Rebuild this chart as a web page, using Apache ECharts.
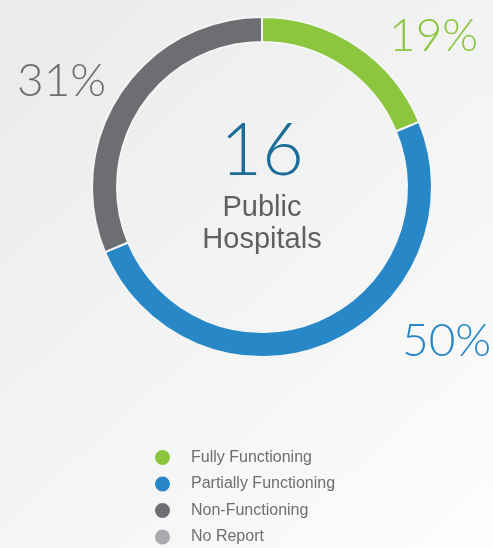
<!DOCTYPE html>
<html>
<head>
<meta charset="utf-8">
<script src="https://cdn.jsdelivr.net/npm/echarts@6/dist/echarts.min.js"></script>
<style>
  html, body { margin: 0; padding: 0; }
  #chart { width: 493px; height: 548px; }
</style>
</head>
<body>
<div id="chart"></div>
<script>
// hospital status counts (16 in all)
var categories = ["Fully Functioning", "Partially Functioning", "Non-Functioning", "No Report"];
var counts = [3, 8, 5, 0];
var colors = ["#8cc63f", "#2787c7", "#6d6e71", "#a7a9ac"];
var total = counts.reduce(function (a, b) { return a + b }, 0);

function pct(i) { return Math.round(counts[i] / total * 100) + "%" }

var chart = echarts.init(document.getElementById("chart"));
var font = "Lato, 'Open Sans', sans-serif";

chart.setOption({
  backgroundColor: new echarts.graphic.LinearGradient(0, 0, 1, 1, [
    {offset: 0, color: "#e9eaeb"}, {offset: 1, color: "#fdfdfd"}
  ]),
  color: colors,
  legend: {
    orient: "vertical", left: 148, top: 443, height: 110,
    icon: "circle", itemWidth: 17, itemHeight: 17, itemGap: 7.5,
    data: categories,
    textStyle: {color: "#6d6e71", fontSize: 16, fontFamily: "'Liberation Sans', Arial, sans-serif", padding: [0, 0, 0, 15]}
  },
  series: [{
    type: "pie",
    center: [262, 187],
    radius: [145, 170],
    startAngle: 90,
    clockwise: true,
    avoidLabelOverlap: false,
    silent: true,
    label: {show: false},
    itemStyle: {borderColor: "#f4f5f5", borderWidth: 2},
    data: categories.map(function (c, i) { return {name: c, value: counts[i]} })
  }],
  graphic: [
    {type: "text", x: 262, y: 116, style: {text: String(total), fill: "#1b6d98", font: "300 72px " + font, align: "center"}},
    {type: "text", x: 262, y: 192, style: {text: "Public\nHospitals", fill: "#5f6062", font: "29px 'Liberation Sans', Arial, sans-serif", align: "center", lineHeight: 32}},
    {type: "text", x: 389, y: 13, style: {text: pct(0), fill: colors[0], font: "300 46px " + font}},
    {type: "text", x: 402, y: 318, style: {text: pct(1), fill: colors[1], font: "300 46px " + font}},
    {type: "text", x: 17, y: 58, style: {text: pct(2), fill: colors[2], font: "300 46px " + font}}
  ]
});
</script>
</body>
</html>
